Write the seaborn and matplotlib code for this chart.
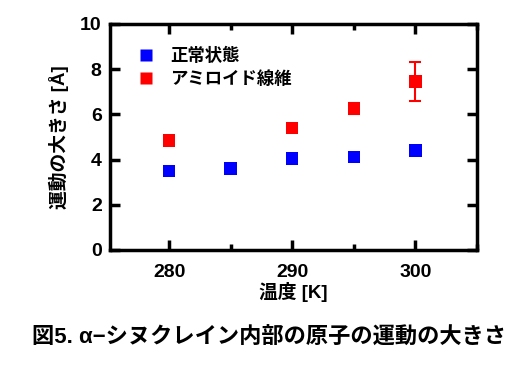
import numpy as np
import pandas as pd
import matplotlib.pyplot as plt
import seaborn as sns
from matplotlib.ticker import MultipleLocator

sns.set_style("ticks")
plt.rcParams['font.family'] = ['Liberation Sans', 'Noto Sans CJK JP', 'DejaVu Sans']
plt.rcParams['font.weight'] = 'bold'
plt.rcParams['text.color'] = 'black'
plt.rcParams['axes.labelcolor'] = 'black'
plt.rcParams['xtick.color'] = 'black'
plt.rcParams['ytick.color'] = 'black'

# Data
normal_temp = [280, 285, 290, 295, 300]
normal_amp = [3.5, 3.6, 4.05, 4.12, 4.4]
normal_err = [0.05, 0.05, 0.05, 0.05, 0.05]

amyloid_temp = [280, 290, 295, 300]
amyloid_amp = [4.85, 5.4, 6.25, 7.45]
amyloid_err = [0.05, 0.05, 0.25, 0.85]

df = pd.concat([
    pd.DataFrame({"temp": normal_temp, "amp": normal_amp, "err": normal_err, "state": "正常状態"}),
    pd.DataFrame({"temp": amyloid_temp, "amp": amyloid_amp, "err": amyloid_err, "state": "アミロイド線維"}),
])
colors = {"正常状態": "#0000ff", "アミロイド線維": "#ff0000"}

fig = plt.figure(figsize=(5.27, 3.66), dpi=100)
ax = fig.add_axes([110 / 527, 1 - 250 / 366, 367 / 527, 226 / 366])

for state, g in df.groupby("state", sort=False):
    ax.errorbar(g["temp"], g["amp"], yerr=g["err"], fmt="none",
                ecolor=colors[state], elinewidth=1.5, capsize=4, capthick=1.5, zorder=2)

sns.scatterplot(data=df, x="temp", y="amp", hue="state", palette=colors,
                marker="s", s=80, edgecolor="none", ax=ax, zorder=3)

ax.set_xlim(275.2, 305)
ax.set_ylim(0, 10)
ax.xaxis.set_major_locator(MultipleLocator(10))
ax.xaxis.set_minor_locator(MultipleLocator(5))
ax.yaxis.set_major_locator(MultipleLocator(2))
ax.tick_params(which="both", direction="in", top=True, right=True, width=2.5, color="black")
ax.tick_params(which="major", length=7, labelsize=14)
ax.tick_params(axis="x", which="major", pad=10)
ax.tick_params(axis="y", which="major", pad=6)
ax.tick_params(which="minor", length=4)
ax.set_xticks([280, 290, 300], labels=["280", "290", "300"])
for lbl in ax.get_xticklabels() + ax.get_yticklabels():
    lbl.set_fontweight("bold")
for s in ax.spines.values():
    s.set_linewidth(2.5)
    s.set_color("black")

ax.set_xlabel("温度 [K]", fontsize=13.5, fontweight="bold", labelpad=1)
ax.set_ylabel("運動の大きさ [Å]", fontsize=13.5, fontweight="bold", labelpad=8)

leg = ax.legend(loc="upper left", frameon=False, fontsize=12.5, handletextpad=0.4,
                borderaxespad=0.9, markerscale=1.0, labelspacing=0.35,
                bbox_to_anchor=(-0.012, 1.0))
for t in leg.get_texts():
    t.set_fontweight("bold")

fig.text(0.51, 1 - 338 / 366, "図5. α−シヌクレイン内部の原子の運動の大きさ",
         ha="center", va="center", fontsize=16, fontweight="bold")

fig.savefig("out.png", dpi=100)
